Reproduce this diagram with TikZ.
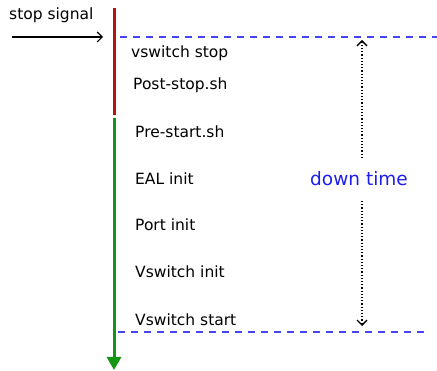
\documentclass[tikz,border=0pt]{standalone}
\usepackage{fontspec}
\setmainfont{DejaVu Sans}
\usetikzlibrary{arrows.meta}
\definecolor{stopred}{RGB}{180,20,20}
\definecolor{startgreen}{RGB}{20,150,20}
\definecolor{dashblue}{RGB}{70,70,240}
\definecolor{textblue}{RGB}{30,30,235}
\begin{document}
\begin{tikzpicture}[x=1pt,y=-1pt,
  steplabel/.style={anchor=base west,inner sep=0pt,font=\fontsize{15.5}{18}\selectfont},
  bluedash/.style={draw=dashblue,line width=1.4pt,dash pattern=on 7pt off 6pt},
  dotarrow/.style={draw=black,line width=1.2pt,dotted,-{Straight Barb[length=5pt,width=10pt,line width=1.3pt]}}]
\useasboundingbox (0,0) rectangle (437,371);
% timeline
\coordinate (rtop) at (114,8);
\coordinate (rbot) at (114,115);
\coordinate (gtop) at (114,118);
\coordinate (gbot) at (114,370);
\draw[stopred,line width=3pt] (rtop) -- (rbot);
\draw[startgreen,line width=3pt,-{Triangle[length=13pt,width=14pt]}] (gtop) -- (gbot);
% stop signal
\node[anchor=base west,inner sep=0pt,font=\fontsize{15.5}{18}\selectfont] (sig) at (9,20) {stop signal};
\coordinate (sa) at (12,37);
\coordinate (sb) at (103,37);
\draw[line width=1.2pt,-{Straight Barb[length=5pt,width=10pt]}] (sa) -- (sb);
% dashed lines
\coordinate (d1a) at (120,37);
\coordinate (d1b) at (437,37);
\coordinate (d2a) at (118,332);
\coordinate (d2b) at (428,332);
\draw[bluedash] (d1a) -- (d1b);
\draw[bluedash] (d2a) -- (d2b);
% step labels
\node[steplabel] (s1) at (131,58) {vswitch stop};
\node[steplabel] (s2) at (133,90) {Post-stop.sh};
\node[steplabel] (s3) at (135,138) {Pre-start.sh};
\node[steplabel] (s4) at (135,185) {EAL init};
\node[steplabel] (s5) at (135,231) {Port init};
\node[steplabel] (s6) at (135,278) {Vswitch init};
\node[steplabel] (s7) at (135,326) {Vswitch start};
% down time
\node[text=textblue,anchor=base,inner sep=0pt,font=\fontsize{18.5}{21}\selectfont] (dt) at (359,186) {down time};
\coordinate (up) at (362,40);
\coordinate (dn) at (362,326);
\coordinate (dtu) at (362,158);
\coordinate (dtd) at (362,201);
\draw[dotarrow] (dtu) -- (up);
\draw[dotarrow] (dtd) -- (dn);
\end{tikzpicture}
\end{document}
